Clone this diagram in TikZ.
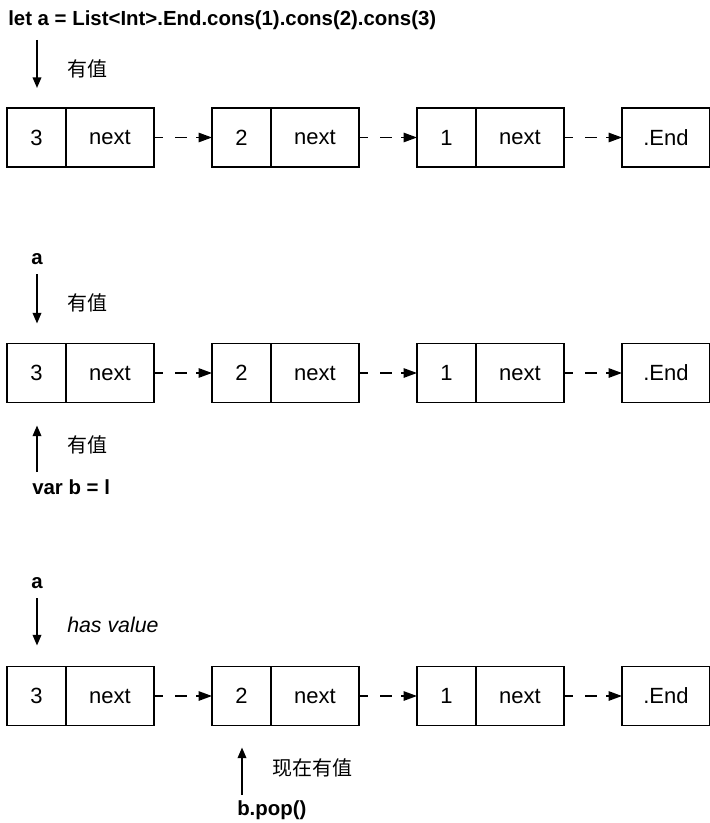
\documentclass[tikz,border=0pt]{standalone}
\usepackage{fontspec}
\setmainfont{Liberation Sans}
\newfontfamily\cjk{Noto Sans CJK SC}
\usetikzlibrary{positioning, arrows.meta}

\begin{document}
\begin{tikzpicture}[x=0.75pt, y=-0.75pt,
        cell/.style={draw, line width=1.2pt, outer sep=0pt, inner sep=0pt, minimum height=44.25pt, font=\fontsize{16.5}{19}\selectfont},
        valcell/.style={cell, minimum width=44.25pt},
        nextcell/.style={cell, minimum width=66pt},
        link/.style={line width=1.2pt, dash pattern=on 6.5pt off 9.25pt on 9pt off 6.75pt, -{Triangle[length=10pt, width=7pt]}},
        ptr/.style={line width=1.2pt, -{Triangle[length=8pt, width=6.5pt]}},
        code/.style={font=\bfseries\fontsize{15.3}{18}\selectfont, inner sep=0pt},
        note/.style={font=\cjk\fontsize{15}{18}\selectfont, anchor=west, inner sep=0pt}]
    \useasboundingbox (0,0) rectangle (709,823);
    % the three lists
    \foreach \r/\y in {1/137.5, 2/373, 3/696}
    {%
        \node[valcell] (v3-\r) at (36.5,\y) {3};
        \node[nextcell, right=0pt of v3-\r] (n3-\r) {next};
        \node[valcell, right=43.5pt of n3-\r] (v2-\r) {2};
        \node[nextcell, right=0pt of v2-\r] (n2-\r) {next};
        \node[valcell, right=43.5pt of n2-\r] (v1-\r) {1};
        \node[nextcell, right=0pt of v1-\r] (n1-\r) {next};
        \node[nextcell, right=43.5pt of n1-\r] (end-\r) {.End};
        \draw[link] (n3-\r) -- (v2-\r);
        \draw[link] (n2-\r) -- (v1-\r);
        \draw[link] (n1-\r) -- (end-\r);
    }

    % first list
    \node[code, anchor=west] (title) at (8,20) {let a = List<Int>.End.cons(1).cons(2).cons(3)};
    \coordinate (t1) at (37,40);
    \draw[ptr, shorten >=15pt] (t1) -- (t1 |- v3-1.north);
    \node[note] (l1) at (67,69) {有值};

    % second list
    \node[code] (a2) at (37,259) {a};
    \draw[ptr, shorten <=7pt, shorten >=15pt] (a2.south) -- (a2.south |- v3-2.north);
    \node[note] (l2) at (67,303) {有值};
    \coordinate (s2) at (37,472);
    \draw[ptr, shorten >=17.25pt] (s2) -- (s2 |- v3-2.south);
    \node[note] (l3) at (67,445) {有值};
    \node[code, anchor=west] (b2) at (32,487) {var b = l};

    % third list
    \node[code] (a3) at (37,583) {a};
    \draw[ptr, shorten <=7pt, shorten >=15.75pt] (a3.south) -- (a3.south |- v3-3.north);
    \node[font=\itshape\fontsize{16}{19}\selectfont, anchor=west, inner sep=0pt] (h3) at (67,625) {has value};
    \coordinate (s3) at (242,795);
    \draw[ptr, shorten >=16.5pt] (s3) -- (s3 |- v2-3.south);
    \node[note] (l4) at (272,768) {现在有值};
    \node[code, anchor=west] (b3) at (237,810) {b.pop()};
\end{tikzpicture}
\end{document}
